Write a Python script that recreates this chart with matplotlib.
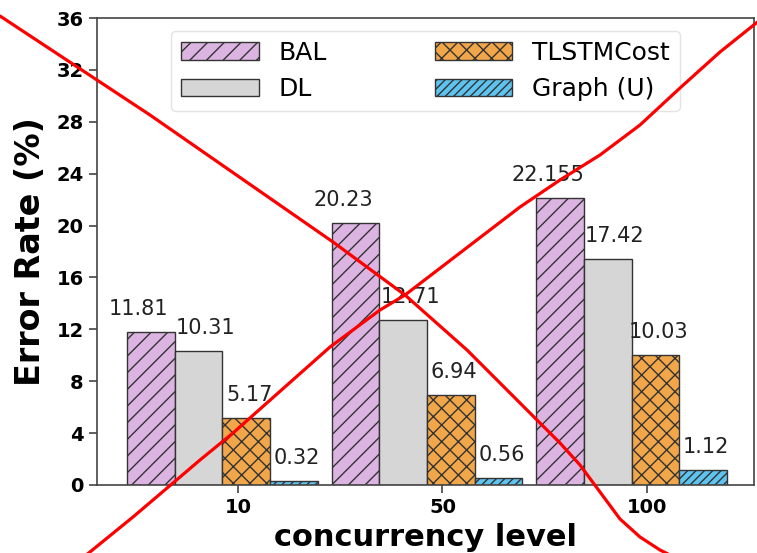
import numpy as np
import matplotlib
matplotlib.use('Agg')
import matplotlib.pyplot as plt
from matplotlib.lines import Line2D

# Data
levels = ['10', '50', '100']
series = ['BAL', 'DL', 'TLSTMCost', 'Graph (U)']
bal = [11.81, 20.23, 22.155]
dl = [10.31, 12.71, 17.42]
tlstm = [5.17, 6.94, 10.03]
graph = [0.32, 0.56, 1.12]

# red cross drawn over the figure (pixel coords, y down)
cross_a = [(0, 16), (150, 115), (333, 242), (405, 295), (467, 350), (520, 403),
           (560, 443), (580, 465), (600, 492), (620, 519), (640, 537), (660, 550),
           (672, 556)]
cross_b = [(85, 556), (133, 517), (173, 483), (200, 460), (233, 433), (330, 347),
           (380, 310), (405, 295), (520, 207), (560, 180), (600, 155), (640, 125),
           (680, 88), (720, 52), (760, 20)]

W, H = 757, 553
fig = plt.figure(figsize=(W / 100, H / 100), dpi=100)
ax = fig.add_axes([97 / W, 1 - 485 / H, (754 - 97) / W, (485 - 18) / H])

x = np.arange(len(levels))
w = 0.233
offsets = [-0.425, -0.192, 0.041, 0.274]
colors = ['#dcb4e2', '#d6d6d6', '#f2a64a', '#5ec3ee']
hatches = ['//', '', 'xx', '////']
label_dx = [-0.059, 0.034, 0.015, 0.015]

plt.rcParams['hatch.linewidth'] = 1.0
for vals, name, off, c, h, dx in zip([bal, dl, tlstm, graph], series, offsets,
                                      colors, hatches, label_dx):
    ax.bar(x + off, vals, w, color=c, edgecolor='#333333', hatch=h,
           linewidth=1.0, label=name)
    for xi, v in zip(x + off, vals):
        ax.text(xi + dx, v + 1, str(v), ha='center', va='bottom',
                fontsize=15, color='#222222')

ax.set_xlim(-0.688, 2.522)
ax.set_ylim(0, 36)
ax.set_yticks(np.arange(0, 37, 4))
ax.set_xticks(x)
ax.set_xticklabels(levels)
for lab in ax.get_xticklabels() + ax.get_yticklabels():
    lab.set_fontweight('bold')
ax.tick_params(labelsize=14, length=6, width=1.2, color='#444444')
for s in ax.spines.values():
    s.set_color('#444444')
    s.set_linewidth(1.2)

ax.set_xlabel('concurrency level', fontsize=22, fontweight='bold')
ax.set_ylabel('Error Rate (%)', fontsize=24, fontweight='bold', labelpad=7)

ax.legend(loc='upper center', ncol=2, fontsize=18, handlelength=3.1,
          columnspacing=4.3, edgecolor='#dddddd')

for pts in [cross_a, cross_b]:
    px = np.array([p[0] for p in pts]) / W
    py = 1 - np.array([p[1] for p in pts]) / H
    fig.add_artist(Line2D(px, py, transform=fig.transFigure, color='red',
                          linewidth=2.3, solid_capstyle='round',
                          solid_joinstyle='round'))

fig.savefig('out.png', dpi=100)
